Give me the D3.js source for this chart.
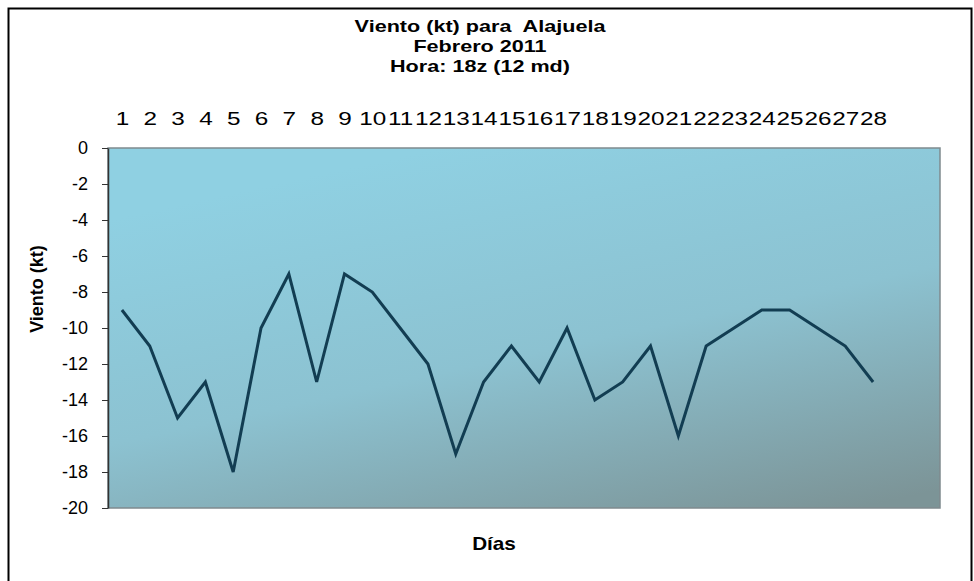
<!DOCTYPE html>
<html>
<head>
<meta charset="utf-8">
<script src="https://cdn.jsdelivr.net/npm/d3@7"></script>
<style>
  body { margin: 0; background: #fff; }
  svg { display: block; font-family: 'Liberation Sans', Arial, sans-serif; }
  .title { font-weight: bold; font-size: 16px; white-space: pre; }
  .axis-name { font-weight: bold; font-size: 18px; }
  .axis text { font-size: 18px; fill: #000; font-family: 'Liberation Sans', Arial, sans-serif; }
</style>
</head>
<body>
<div id="chart"></div>
<script>
// Data
const days = d3.range(1, 29);
const wind = [-9, -11, -15, -13, -18, -10, -7, -13, -7, -8, -10, -12, -17, -13,
  -11, -13, -10, -14, -13, -11, -16, -11, -10, -9, -9, -10, -11, -13];
const yTicks = [0, -2, -4, -6, -8, -10, -12, -14, -16, -18, -20];
const titleLines = ['Viento (kt) para  Alajuela', 'Febrero 2011', 'Hora: 18z (12 md)'];

const W = 974, H = 581;
const plot = { l: 108, t: 148, r: 940, b: 508 };

const svg = d3.select('#chart').append('svg')
  .attr('width', W).attr('height', H);

// outer frame
svg.append('rect')
  .attr('x', 8.5).attr('y', 8.5).attr('width', 963).attr('height', 580)
  .attr('fill', '#fff').attr('stroke', '#000').attr('stroke-width', 2);

// background gradient
const grad = svg.append('defs').append('linearGradient')
  .attr('id', 'bg').attr('x1', '0.4').attr('y1', '0').attr('x2', '0.9').attr('y2', '1');
grad.append('stop').attr('offset', '0%').attr('stop-color', '#8fd0e2');
grad.append('stop').attr('offset', '50%').attr('stop-color', '#8cc2d1');
grad.append('stop').attr('offset', '100%').attr('stop-color', '#7c9497');

svg.append('rect')
  .attr('x', plot.l).attr('y', plot.t)
  .attr('width', plot.r - plot.l).attr('height', plot.b - plot.t)
  .attr('fill', 'url(#bg)')
  .attr('stroke', '#7f8a8e').attr('stroke-width', 1.5);

const x = d3.scalePoint(days, [plot.l, 887]).padding(0.5);
const y = d3.scaleLinear([-20, 0], [plot.b, plot.t]);

// y axis
const ya = svg.append('g')
  .attr('class', 'axis')
  .attr('transform', `translate(${plot.l}, 0)`)
  .call(d3.axisLeft(y).tickValues(yTicks).tickFormat((d) => String(d))
    .tickSize(6).tickSizeOuter(0).tickPadding(14));
ya.select('.domain').attr('stroke', '#333').attr('stroke-width', 1.5);
ya.selectAll('.tick line').attr('stroke', '#333');

// x axis labels at the top
const xa = svg.append('g')
  .attr('class', 'axis')
  .attr('transform', 'translate(0, 125)')
  .call(d3.axisTop(x).tickSize(0).tickPadding(0));
xa.select('.domain').remove();
xa.selectAll('text').attr('dy', '0').attr('transform', 'scale(1.35, 1)');

// line
svg.append('path')
  .datum(wind)
  .attr('fill', 'none')
  .attr('stroke', '#123d52')
  .attr('stroke-width', 3)
  .attr('d', d3.line().x((d, i) => x(days[i])).y((d) => y(d)));

// title
svg.append('g')
  .attr('transform', 'translate(480, 0) scale(1.35, 1)')
  .selectAll('text')
  .data(titleLines)
  .join('text')
  .attr('class', 'title')
  .attr('text-anchor', 'middle')
  .attr('x', 0)
  .attr('y', (d, i) => 32 + i * 20)
  .text((d) => d);

// axis names
svg.append('text')
  .attr('class', 'axis-name')
  .attr('text-anchor', 'middle')
  .attr('transform', 'translate(494, 550) scale(1.15, 1)')
  .text('Días');
svg.append('text')
  .attr('class', 'axis-name')
  .attr('text-anchor', 'middle')
  .attr('transform', 'translate(43, 289) rotate(-90)')
  .text('Viento (kt)');
</script>
</body>
</html>
